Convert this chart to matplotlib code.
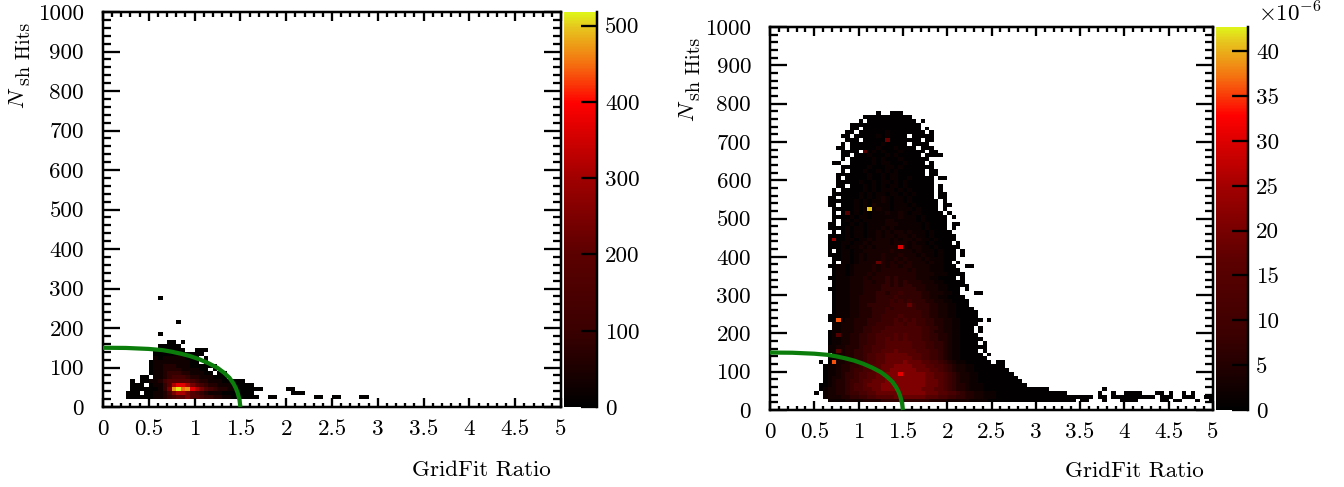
import numpy as np
import matplotlib
matplotlib.use("Agg")
import matplotlib.pyplot as plt
from matplotlib.colors import LinearSegmentedColormap

plt.rcParams["font.family"] = ["cmr10"]
plt.rcParams["mathtext.fontset"] = "cm"
plt.rcParams["axes.unicode_minus"] = False
plt.rcParams["axes.formatter.use_mathtext"] = True

W, H = 1344, 487
PX = 0.72  # one pixel in points at dpi 100
FS = 16.6

x_ticks = [0, 0.5, 1, 1.5, 2, 2.5, 3, 3.5, 4, 4.5, 5]
x_labels = ["0", "0.5", "1", "1.5", "2", "2.5", "3", "3.5", "4", "4.5", "5"]
y_ticks = [0, 100, 200, 300, 400, 500, 600, 700, 800, 900, 1000]

# green cut line
cut_x = [0, 0.25, 0.5, 0.65, 0.75, 0.85, 0.95, 1.05, 1.15, 1.25, 1.32, 1.38, 1.42, 1.45, 1.47, 1.49, 1.5]
cut_y = [150, 149.5, 147, 144, 140, 135, 129, 121, 111, 99, 87, 74, 61, 48, 36, 18, 0]

# levels used in the hit maps below (one character = one 0.05 wide bin)
left_levels = {"0": 8, "1": 30, "2": 60, "3": 90, "4": 130, "5": 180, "6": 240,
               "7": 310, "8": 370, "9": 420, "o": 470, "y": 510}
right_levels = {"0": 0.5, "1": 2, "2": 3.5, "3": 5, "4": 7, "5": 9, "6": 12,
                "7": 15, "8": 18, "9": 21}

# row index (10 hits wide) -> bins starting at bin 0
left_rows = {
    27: "            0",
    21: "                0",
    18: "            0",
    16: "              00 0",
    15: "            00000",
    14: "           0000000  000",
    13: "           00000100000",
    12: "           1011111000 0",
    11: "          01111111100 0",
    10: "          011222111000000",
    9:  "          0112222111100 0",
    8:  "          01123332211100 00",
    7:  "        00 1123444322111000",
    6:  "      0 00112455555432211100000",
    5:  "      000 01135788765432211100000",
    4:  "      0000001368oyo8765432211100000     00",
    3:  "     000 001124677654321110000000        000",
    2:  "     00000011234556554332211000000  00        00  00    00",
}
left_spots = [(15, 4, 470), (16, 4, 510), (17, 4, 450)]

# row index -> bins starting at bin 10
right_rows = {
    77: "              0  000",
    76: "           00000000000",
    75: "          0 00000000000 0",
    74: "        0000000000000000",
    73: "        00 0000000000000 0",
    72: "       00 000000100000000 0",
    71: "      00 000001010000 00000",
    70: "       000 0000000000000 00",
    69: "      0 0000000100000 0000",
    68: "     00 000000100010000 000",
    67: "      0000 00101000100000 00",
    66: "      00 000100010100000 0000",
    65: "      0 000001010001000000",
    64: "    00  00000101100010000 0",
    63: "      000000100011010000000",
    62: "      0 00010010101000000 00",
    61: "     00000001001011000000 00",
    60: "     0 00000100101100100000 00",
    59: "     0000010010110101000000",
    58: "     00 0001010101101000000 0",
    57: "    0 000001010111010100000 0",
    56: "    00000010101101101010000 00",
    55: "   00 000010101210110100000 00",
    54: "   0000001010112101101000000 0",
    53: "   00 0001010211101110100000 00",
    52: "    000001010121101111010000 0",
    51: "    0 00010101112112101100000 0",
    50: "    00001011011111121110100000 0",
    49: "    0 010101111122111110100000",
    48: "   00 001010111122211111010000 00",
    47: "   000010110111212111111010000 0",
    46: "    0 0101101121212212111010000",
    45: "   00001011011212212212110100000",
    44: "   0 001101121222121221211010000",
    43: "   0001101121222212221211010000 0",
    42: "   000101121212222222122110100000",
    41: "   0 011011222222322221211101000 0",
    40: "   00011012122232223222121101000 0",
    39: "    0011012122232232322212111000",
    38: "    0 1101222223232323222121100 0",
    37: "   00110122223232332332222111000  00",
    36: "    01101222232333333232221110000",
    35: "    011012223233333333322221110000",
    34: "   00111222323334343333222110000 0",
    33: "    011122233233434343332221100000",
    32: "    0111222333344343443332221100000",
    31: "   001112223333444444443322211000 0",
    30: "    01112223334434454444332221100   00",
    29: "    011122333344445444443322110000",
    28: "    0111223333444545454443322110000",
    27: "    0111223344444555545444332211000",
    26: "    01112233344454555554443322110000",
    25: "    011122333444555555554433221100000",
    24: "   0011122333445555655554433221100000",
    23: "   00112233344455565656554433221100000 0",
    22: "    112223334455556656655443322110000",
    21: "    11222334455566666666554432211000 0",
    20: "   011222334455666666666554332211000 0",
    19: "   0112233445566667676665544332110000",
    18: "   01122334455667676766655443321100000",
    17: "   0112233445566777777666554432110000 0",
    16: "   112233345566677777766655443211000000",
    15: "   1122334455667778777766655432110000 0",
    14: "    1223344566778888877766554321100000 0",
    13: "   012233445667788888877665543211000000",
    12: " 0 0122334456677888898887766543211000000 00",
    11: "  01123344566778889999888776654322110000000",
    10: "  011233455667788999999888776543221100000000",
    9:  "  0112344566778899999999988776543221100000000",
    8:  "  01223445667788999999999887765432211000000000",
    7:  "  012334556778889999999998887654322110000000000",
    6:  " 00123345667888999999999988876543321110000000000",
    5:  " 0122334566778899999999988877654332111000000000000",
    4:  "0 12233455667788888999999888776654332211100000000000",
    3:  "  122233445566777788888887776655443322111000000000",
    2:  "   1111222233334444444444433332222211110000000000 00",
}
# row index -> bins starting at bin 59, the thin tail out to 5
right_tail = {
    5: "0000            0",
    4: "00000000       0  0  0000   00 0  0 0",
    3: "00000000000000 00 0000000000 000  000  00",
    2: "0  0000000 00   0   0000     00 00   0  000",
}
right_spots = [(22, 52, 41), (26, 70, 18), (21, 67, 15), (29, 42, 30), (14, 44, 24),
               (17, 51, 15), (15, 23, 36), (14, 12, 36), (29, 9, 31), (31, 27, 18),
               (24, 38, 18), (15, 19, 15), (15, 15, 15)]

cmap = LinearSegmentedColormap.from_list("darkbody", [
    (0, "#000000"), (0.19, "#3a0000"), (0.39, "#5c0000"), (0.58, "#a00000"),
    (0.77, "#ff0000"), (0.87, "#f57010"), (0.965, "#e6c81e"), (1, "#dff51a")])
cmap.set_bad("white")


def fill(grid, rows, levels, start):
    for r, s in rows.items():
        for i, c in enumerate(s):
            if c != " " and start + i < 100:
                grid[r, start + i] = levels[c]


def make_axes(box):
    x0, y0, x1, y1 = box
    return fig.add_axes([x0 / W, 1 - y1 / H, (x1 - x0) / W, (y1 - y0) / H])


def draw_panel(grid, box, cbox, vmax, cticks):
    ax = make_axes(box)
    im = ax.imshow(np.ma.masked_invalid(grid), origin="lower", extent=[0, 5, 0, 1000],
                   aspect="auto", cmap=cmap, vmin=0, vmax=vmax, interpolation="nearest")
    ax.plot(cut_x, cut_y, color="#0b7d0b", lw=4.2 * PX, clip_on=False,
            solid_capstyle="butt", zorder=5)
    ax.set_xlim(0, 5)
    ax.set_ylim(0, 1000)
    ax.set_xticks(x_ticks)
    ax.set_xticklabels(x_labels)
    ax.set_yticks(y_ticks)
    ax.set_yticklabels([str(v) for v in y_ticks])
    ax.set_xticks(np.arange(0, 5.01, 0.1), minor=True)
    ax.set_yticks(np.arange(0, 1001, 20), minor=True)
    ax.tick_params(axis="x", which="major", direction="in", top=True, length=9 * PX,
                   width=2.3 * PX, labelsize=FS, pad=12 * PX)
    ax.tick_params(axis="x", which="minor", direction="in", top=True, length=4.5 * PX,
                   width=2.3 * PX)
    ax.tick_params(axis="y", which="major", direction="in", right=True, length=17 * PX,
                   width=2.3 * PX, labelsize=FS, pad=19 * PX)
    ax.tick_params(axis="y", which="minor", direction="in", right=True, length=8 * PX,
                   width=2.3 * PX)
    for sp in ax.spines.values():
        sp.set_linewidth(2.5 * PX)

    cax = make_axes(cbox)
    cb = fig.colorbar(im, cax=cax)
    cb.outline.set_visible(False)
    cb.set_ticks(cticks)
    cb.set_ticklabels([str(v) for v in cticks])
    cax.tick_params(which="major", direction="in", right=True, length=16 * PX,
                    width=2.3 * PX, labelsize=FS, pad=8 * PX)
    cax.minorticks_off()
    cax.spines["right"].set_visible(True)
    cax.spines["right"].set_linewidth(2.5 * PX)
    return ax


fig = plt.figure(figsize=(W / 100, H / 100), dpi=100)

left = np.full((100, 100), np.nan)
fill(left, left_rows, left_levels, 0)
for b, r, v in left_spots:
    left[r, b] = v

right = np.full((100, 100), np.nan)
fill(right, right_rows, right_levels, 10)
fill(right, right_tail, right_levels, 59)
for b, r, v in right_spots:
    right[r, b] = v

draw_panel(left, (103, 12, 561, 407), (564, 12, 597, 407), 518, [0, 100, 200, 300, 400, 500])
draw_panel(right, (770, 27, 1213, 410), (1216, 27, 1248, 410), 42.7, [0, 5, 10, 15, 20, 25, 30, 35, 40])

# axis label built from two texts, the subscript is larger than mathtext makes it
for nx, ny, sx, sy in [(18, 98, 25, 54), (688, 111, 695, 69)]:
    fig.text(nx / W, 1 - ny / H, r"$N$", rotation=90, ha="center", va="center", fontsize=FS)
    fig.text(sx / W, 1 - sy / H, "sh Hits", rotation=90, ha="center", va="center", fontsize=14.5)
fig.text(551 / W, 1 - 470 / H, "GridFit Ratio", ha="right", va="center", fontsize=FS)
fig.text(1204 / W, 1 - 471 / H, "GridFit Ratio", ha="right", va="center", fontsize=FS)
fig.text(1258 / W, 1 - 13 / H, r"$\times 10^{-6}$", ha="left", va="center", fontsize=FS)

fig.savefig("out.png", dpi=100)
